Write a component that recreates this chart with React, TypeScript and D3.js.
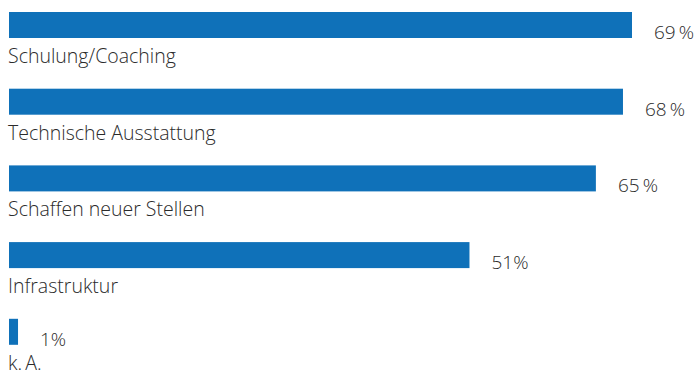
import React from "react";
import * as d3 from "d3";

const categories = [
  "Schulung/Coaching",
  "Technische Ausstattung",
  "Schaffen neuer Stellen",
  "Infrastruktur",
  "k.\u2009A.",
];
const values = [69, 68, 65, 51, 1];

const W = 698;
const H = 372;
const BAR_H = 26;
const BAR_COLOR = "#0f71b9";
const TEXT_COLOR = "#2b2b2b";
const FONT = "'Open Sans', sans-serif";

export default function App() {
  const x = d3.scaleLinear().domain([0, 69]).range([9, 632]);
  const y = d3
    .scaleBand<string>()
    .domain(categories)
    .range([12, 12 + categories.length * 76.7])
    .padding(0)
    .align(0);

  const fmt = (v: number) => (v >= 60 ? `${v}\u2009%` : `${v}%`);

  return (
    <svg
      width={W}
      height={H}
      style={{ position: "absolute", left: 0, top: 0, background: "#fff" }}
    >
      {categories.map((c, i) => {
        const top = y(c) as number;
        const v = values[i];
        return (
          <g key={c}>
            <rect
              x={x(0)}
              y={top}
              width={x(v) - x(0)}
              height={BAR_H}
              fill={BAR_COLOR}
            />
            <text
              x={x(v) + 22}
              y={top + 27}
              fontFamily={FONT}
              fontWeight={300}
              fontSize={19}
              fill={TEXT_COLOR}
            >
              {fmt(v)}
            </text>
            <text
              x={8}
              y={top + 51}
              fontFamily={FONT}
              fontWeight={300}
              fontSize={19.5}
              fill={TEXT_COLOR}
            >
              {c}
            </text>
          </g>
        );
      })}
    </svg>
  );
}
